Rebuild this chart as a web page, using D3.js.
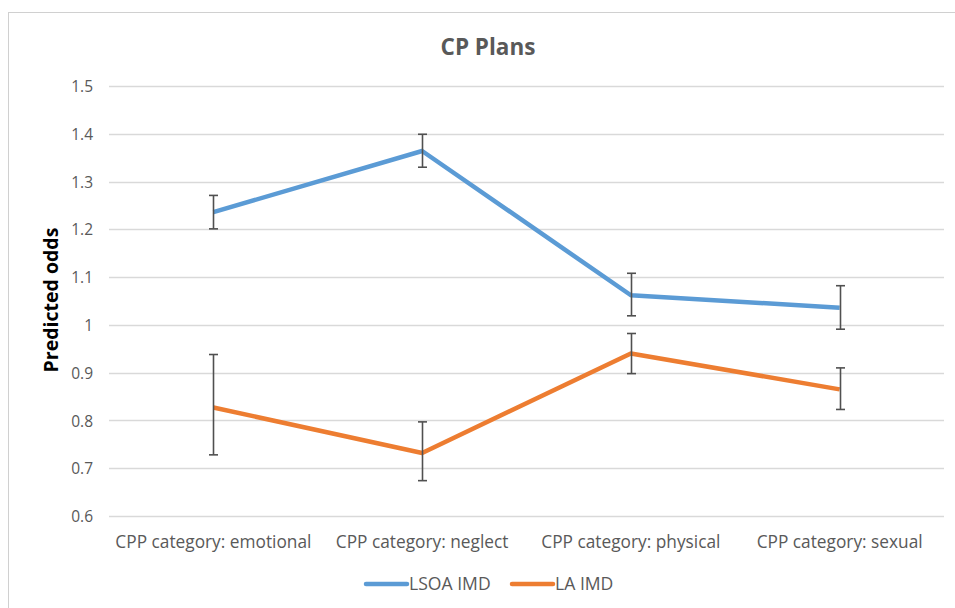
<!DOCTYPE html>
<html><head><meta charset="utf-8">
<script src="https://cdn.jsdelivr.net/npm/d3@7/dist/d3.min.js"></script>
<style>body{margin:0;background:#fff}svg{display:block}</style>
</head><body>
<svg id="c" width="955" height="608"></svg>
<script>
const categories = ["CPP category: emotional","CPP category: neglect","CPP category: physical","CPP category: sexual"];
const seriesNames = ["LSOA IMD","LA IMD"];
const seriesColors = ["#5B9BD5","#ED7D31"];
const lsoaValues = [1.236,1.364,1.062,1.036];
const lsoaLow = [1.201,1.330,1.019,0.991];
const lsoaHigh = [1.271,1.399,1.108,1.082];
const laValues = [0.827,0.732,0.940,0.865];
const laLow = [0.728,0.674,0.898,0.823];
const laHigh = [0.938,0.797,0.982,0.910];
const yTicks = [0.6,0.7,0.8,0.9,1,1.1,1.2,1.3,1.4,1.5];

const series = [
  {name:seriesNames[0], color:seriesColors[0], v:lsoaValues, lo:lsoaLow, hi:lsoaHigh},
  {name:seriesNames[1], color:seriesColors[1], v:laValues, lo:laLow, hi:laHigh}
];
const font = "'Open Sans', 'Noto Sans', sans-serif";
const svg = d3.select("#c");
// chart border
svg.append("rect").attr("x",8.5).attr("y",12.5).attr("width",960).attr("height",620)
  .attr("fill","#fff").attr("stroke","#d0d0d0").attr("stroke-width",1);

const x = d3.scaleBand().domain(categories).range([109,944]);
const y = d3.scaleLinear().domain([0.6,1.5]).range([516,86]);

// gridlines
svg.append("g").selectAll("line").data(yTicks).join("line")
  .attr("x1",109).attr("x2",944).attr("y1",d=>Math.round(y(d))+0.5).attr("y2",d=>Math.round(y(d))+0.5)
  .attr("stroke","#d9d9d9").attr("stroke-width",1.3);

// y axis labels
const yAxis = d3.axisLeft(y).tickValues(yTicks).tickSize(0).tickPadding(0).tickFormat(d=>d3.format("")(d));
const ya = svg.append("g").attr("transform","translate(93,0)").call(yAxis);
ya.select(".domain").remove();
ya.selectAll("text").attr("font-family",font).attr("font-size",15.5).attr("fill","#595959").attr("dy","0.36em");

// x axis labels
const xAxis = d3.axisBottom(x).tickSize(0).tickPadding(0);
const xa = svg.append("g").attr("transform","translate(0,548)").call(xAxis);
xa.select(".domain").remove();
xa.selectAll("text").attr("font-family",font).attr("font-size",17.3).attr("fill","#595959").attr("dy",0);

// title
svg.append("text").attr("x",488).attr("y",55).attr("text-anchor","middle")
  .attr("font-family",font).attr("font-weight","bold").attr("font-size",22.5).attr("fill","#595959").text("CP Plans");
// y title
svg.append("text").attr("transform","translate(58,300) rotate(-90)").attr("text-anchor","middle")
  .attr("font-family",font).attr("font-weight","bold").attr("font-size",19.5).attr("fill","#000").text("Predicted odds");

const cx = c => x(c) + x.bandwidth()/2;
const line = d3.line().x(d=>cx(d.c)).y(d=>y(d.v));
series.forEach(s=>{
  const pts = categories.map((c,i)=>({c, v:s.v[i]}));
  svg.append("path").datum(pts).attr("d",line).attr("fill","none")
    .attr("stroke",s.color).attr("stroke-width",4.5).attr("stroke-linejoin","round");
});
series.forEach(s=>{
  const g = svg.append("g").attr("stroke","#505050").attr("stroke-width",1.6);
  categories.forEach((c,i)=>{
    const xc = Math.round(cx(c))+0.5;
    g.append("line").attr("x1",xc).attr("x2",xc).attr("y1",y(s.lo[i])).attr("y2",y(s.hi[i]));
    g.append("line").attr("x1",xc-4.5).attr("x2",xc+4.5).attr("y1",y(s.lo[i])).attr("y2",y(s.lo[i]));
    g.append("line").attr("x1",xc-4.5).attr("x2",xc+4.5).attr("y1",y(s.hi[i])).attr("y2",y(s.hi[i]));
  });
});

// legend
const legX = [366, 512];
series.forEach((s,i)=>{
  svg.append("line").attr("x1",legX[i]).attr("x2",legX[i]+41).attr("y1",584).attr("y2",584)
    .attr("stroke",s.color).attr("stroke-width",4.5).attr("stroke-linecap","round");
  svg.append("text").attr("x",legX[i]+43).attr("y",590).attr("font-family",font).attr("font-size",17.6)
    .attr("fill","#595959").text(s.name);
});
</script>
</body></html>
